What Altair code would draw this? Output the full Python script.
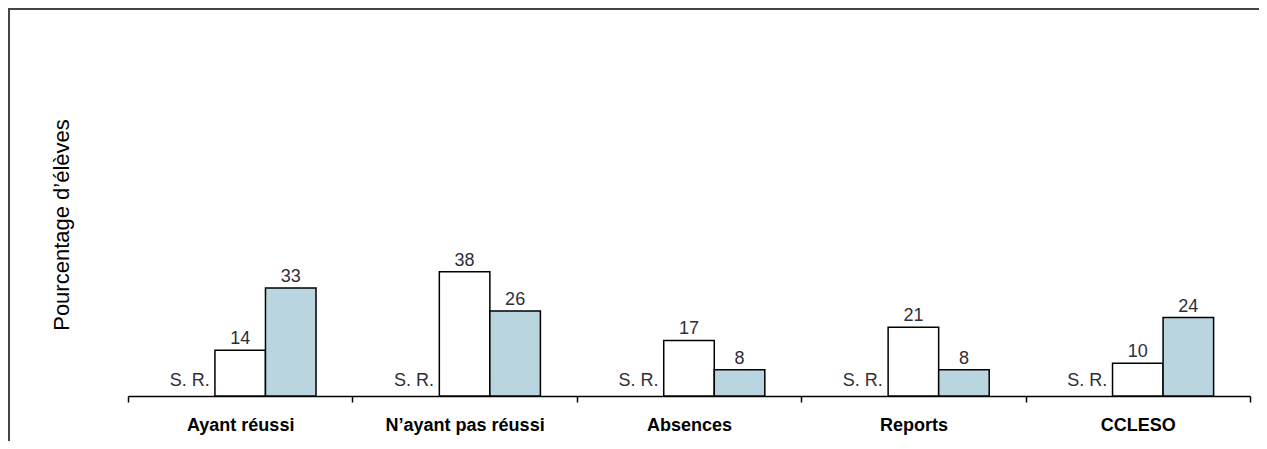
import altair as alt
import pandas as pd

categories = ["Ayant réussi", "N’ayant pas réussi", "Absences", "Reports", "CCLESO"]
series_names = ["S. R.", "Série 1", "Série 2"]
serie1 = [14, 38, 17, 21, 10]
serie2 = [33, 26, 8, 8, 24]
sr_label = "S. R."

rows = []
for i, c in enumerate(categories):
    rows.append({"cat": c, "series": series_names[0], "value": None, "label": sr_label})
    rows.append({"cat": c, "series": series_names[1], "value": serie1[i], "label": str(serie1[i])})
    rows.append({"cat": c, "series": series_names[2], "value": serie2[i], "label": str(serie2[i])})
df = pd.DataFrame(rows)

FONT = "Liberation Sans"

x_enc = alt.X(
    "cat:N",
    sort=categories,
    scale=alt.Scale(paddingInner=0, paddingOuter=0),
    axis=alt.Axis(
        title=None, labelAngle=0, labelFont=FONT, labelFontSize=18,
        labelFontWeight="bold", labelColor="black", labelPadding=14,
        domainColor="black", domainWidth=1.5, tickColor="black", tickWidth=1.5,
        tickSize=6, tickBand="extent", grid=False,
    ),
)
xoff = alt.XOffset(
    "series:N",
    scale=alt.Scale(domain=series_names, paddingInner=0, paddingOuter=0.72),
)
y_scale = alt.Scale(domain=[0, 100])

base = alt.Chart(df).encode(x=x_enc, xOffset=xoff)

bars = base.transform_filter("datum.value != null").mark_bar(
    stroke="black", strokeWidth=1.5
).encode(
    y=alt.Y("value:Q", scale=y_scale, axis=None),
    color=alt.Color(
        "series:N",
        scale=alt.Scale(domain=series_names[1:], range=["white", "#B8D5E0"]),
        legend=None,
    ),
)

vals = base.transform_filter("datum.value != null").mark_text(
    font=FONT, fontSize=18, color="#2e2e38", dy=-6, baseline="alphabetic"
).encode(y=alt.Y("value:Q", scale=y_scale, axis=None), text="label:N")

srs = base.transform_filter("datum.value == null").transform_calculate(zero="0").mark_text(
    font=FONT, fontSize=18, color="#2e2e38", dy=-10, baseline="alphabetic"
).encode(y=alt.Y("zero:Q", scale=y_scale, axis=None), text="label:N")

one = pd.DataFrame({"a": [0]})
ytitle = alt.Chart(one).mark_text(
    text="Pourcentage d’élèves", font=FONT, fontSize=22, color="black",
    angle=270, align="center", baseline="middle"
).encode(x=alt.value(-66), y=alt.value(156))

frame_top = alt.Chart(one).mark_rule(color="#444444", strokeWidth=2).encode(
    x=alt.value(-120), x2=alt.value(1131), y=alt.value(-60)
)
frame_left = alt.Chart(one).mark_rule(color="#444444", strokeWidth=2).encode(
    x=alt.value(-119), y=alt.value(-61), y2=alt.value(420)
)

chart = alt.layer(frame_top, frame_left, ytitle, bars, vals, srs).properties(
    width=1122, height=327,
    background="white",
    autosize=alt.AutoSizeParams(type="none"),
    padding={"left": 120, "top": 61, "right": 9, "bottom": 45},
).configure_view(stroke=None, strokeWidth=0)

chart.save("out.html", embed_options={"renderer": "svg", "actions": False})
